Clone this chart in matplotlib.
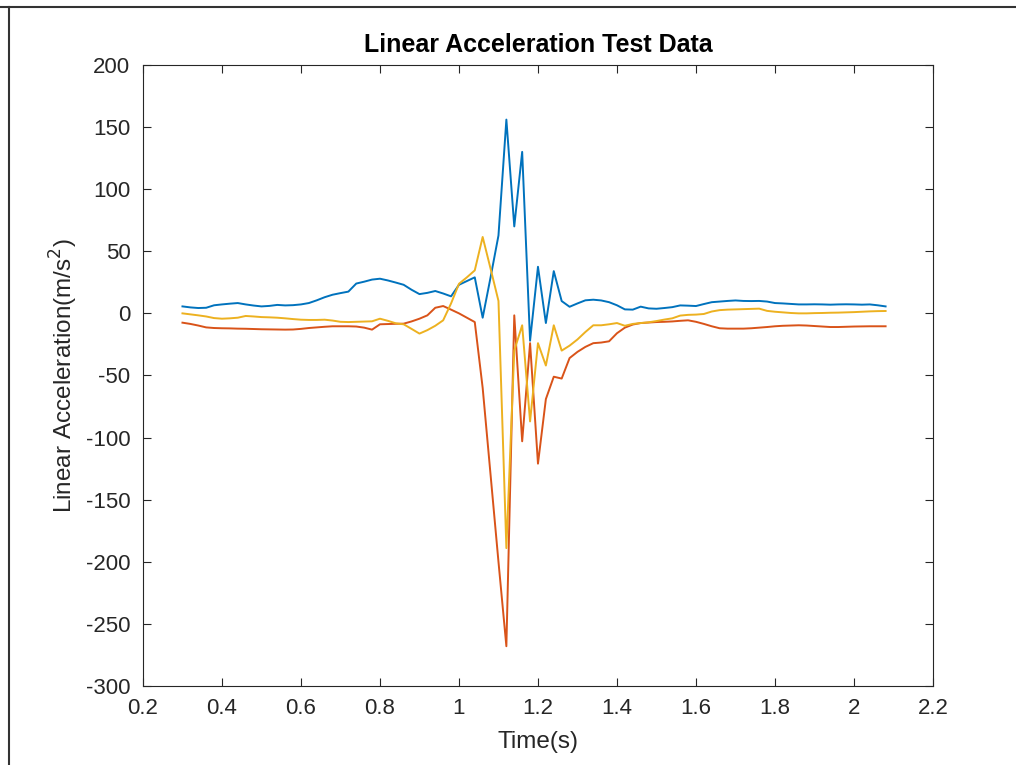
import numpy as np
import matplotlib
matplotlib.use("Agg")
import matplotlib.pyplot as plt
from matplotlib.lines import Line2D

# time stamps (s)
time = [0.30, 0.32, 0.34, 0.36, 0.38, 0.40, 0.42, 0.44, 0.46, 0.48,
        0.50, 0.52, 0.54, 0.56, 0.58, 0.60, 0.62, 0.64, 0.66, 0.68,
        0.70, 0.72, 0.74, 0.76, 0.78, 0.80, 0.82, 0.84, 0.86, 0.88,
        0.90, 0.92, 0.94, 0.96, 0.98, 1.00, 1.02, 1.04, 1.06, 1.08,
        1.10, 1.12, 1.14, 1.16, 1.18, 1.20, 1.22, 1.24, 1.26, 1.28,
        1.30, 1.32, 1.34, 1.36, 1.38, 1.40, 1.42, 1.44, 1.46, 1.48,
        1.50, 1.52, 1.54, 1.56, 1.58, 1.60, 1.62, 1.64, 1.66, 1.68,
        1.70, 1.72, 1.74, 1.76, 1.78, 1.80, 1.82, 1.84, 1.86, 1.88,
        1.90, 1.92, 1.94, 1.96, 1.98, 2.00, 2.02, 2.04, 2.06, 2.08]

# x axis (blue)
acc_x = [5.6, 4.8, 4.3, 4.5, 6.5, 7.2, 7.8, 8.3, 7.2, 6.3,
         5.6, 6.0, 6.8, 6.4, 6.6, 7.2, 8.3, 10.5, 13.0, 15.0,
         16.3, 17.5, 24.0, 25.5, 27.2, 27.9, 26.5, 24.8, 23.0, 19.0,
         15.5, 16.5, 18.0, 16.0, 13.7, 23.0, 26.0, 29.0, -3.5, 29.0,
         62.7, 156.0, 70.0, 130.0, -22.0, 37.5, -7.8, 34.0, 9.9, 5.3,
         8.0, 10.5, 11.0, 10.4, 9.0, 6.5, 3.2, 3.0, 5.4, 4.0,
         3.7, 4.3, 5.0, 6.4, 6.2, 5.9, 7.5, 9.0, 9.5, 10.0,
         10.4, 10.0, 9.9, 10.0, 9.5, 8.3, 8.0, 7.6, 7.2, 7.2,
         7.3, 7.2, 7.0, 7.2, 7.3, 7.2, 7.0, 7.2, 6.5, 5.6]

# y axis (red)
acc_y = [-7.5, -8.5, -9.8, -11.3, -11.8, -12.0, -12.1, -12.3, -12.4, -12.6,
         -12.8, -12.9, -13.0, -13.1, -13.0, -12.5, -11.8, -11.3, -10.8, -10.4,
         -10.4, -10.4, -10.6, -11.5, -13.1, -8.8, -8.6, -8.4, -8.3, -6.5,
         -4.3, -1.6, 4.5, 5.9, 3.0, 0.0, -3.5, -7.0, -60.0, -130.0,
         -200.0, -268.0, -1.6, -103.0, -24.0, -121.0, -69.0, -51.0, -52.5, -36.0,
         -31.0, -27.0, -24.0, -23.5, -22.5, -16.0, -11.5, -9.0, -7.8, -7.4,
         -7.0, -6.8, -6.5, -6.0, -5.6, -6.8, -8.5, -10.4, -12.0, -12.3,
         -12.3, -12.3, -12.0, -11.5, -11.0, -10.4, -10.0, -9.8, -9.6, -9.8,
         -10.2, -10.6, -11.0, -11.0, -10.8, -10.6, -10.5, -10.4, -10.4, -10.4]

# z axis (yellow)
acc_z = [0.0, -0.8, -1.6, -2.5, -3.8, -4.3, -4.0, -3.5, -2.1, -2.5,
         -3.0, -3.2, -3.5, -4.0, -4.6, -5.1, -5.3, -5.3, -5.1, -5.8,
         -6.8, -7.0, -6.8, -6.6, -6.4, -4.3, -6.0, -8.0, -8.8, -12.5,
         -16.3, -13.5, -10.0, -5.6, 8.0, 23.8, 29.0, 34.6, 61.5, 36.0,
         10.0, -189.0, -30.0, -9.6, -87.0, -24.0, -42.0, -9.6, -30.0, -26.0,
         -21.0, -15.0, -9.6, -9.6, -8.8, -7.8, -10.0, -8.5, -7.8, -7.2,
         -6.2, -5.0, -4.0, -1.8, -1.2, -1.0, -0.5, 1.5, 2.6, 3.0,
         3.2, 3.4, 3.6, 3.8, 2.0, 1.3, 0.8, 0.3, 0.0, 0.0,
         0.2, 0.3, 0.5, 0.6, 0.8, 1.0, 1.3, 1.6, 1.8, 1.9]

xticks = [0.2, 0.4, 0.6, 0.8, 1, 1.2, 1.4, 1.6, 1.8, 2, 2.2]
xtick_labels = ["0.2", "0.4", "0.6", "0.8", "1", "1.2", "1.4", "1.6", "1.8", "2", "2.2"]
yticks = [-300, -250, -200, -150, -100, -50, 0, 50, 100, 150, 200]

plt.rcParams['font.family'] = ['Liberation Sans', 'DejaVu Sans']
plt.rcParams['axes.unicode_minus'] = False

fig = plt.figure(figsize=(10.16, 7.65), dpi=100)
ax = fig.add_axes([0.1407, 0.1033, 0.7776, 0.8118])

ax.plot(time, acc_x, color='#0072BD', lw=1.4)
ax.plot(time, acc_y, color='#D95319', lw=1.4)
ax.plot(time, acc_z, color='#EDB120', lw=1.4)

ax.set_xlim(0.2, 2.2)
ax.set_ylim(-300, 200)
ax.set_xticks(xticks)
ax.set_xticklabels(xtick_labels)
ax.set_yticks(yticks)
ax.tick_params(direction='in', length=6, width=0.8, colors='#262626',
               labelsize=16, top=True, right=True)
ax.tick_params(axis='x', pad=9)
ax.tick_params(axis='y', pad=9)
for s in ax.spines.values():
    s.set_color('#262626')
    s.set_linewidth(0.8)

ax.set_title('Linear Acceleration Test Data', fontsize=18, fontweight='bold', pad=9)
ax.set_xlabel('Time(s)', fontsize=17.5, color='#262626', labelpad=8)
ax.set_ylabel('Linear Acceleration(m/s$^2$)', fontsize=17.5, color='#262626', labelpad=4)

# screenshot frame edges
fig.add_artist(Line2D([0, 1], [1 - 7 / 765, 1 - 7 / 765], color='#333333', lw=1.5))
fig.add_artist(Line2D([9 / 1016, 9 / 1016], [0, 1 - 7 / 765], color='#333333', lw=1.5))

fig.savefig('out.png', dpi=100)
